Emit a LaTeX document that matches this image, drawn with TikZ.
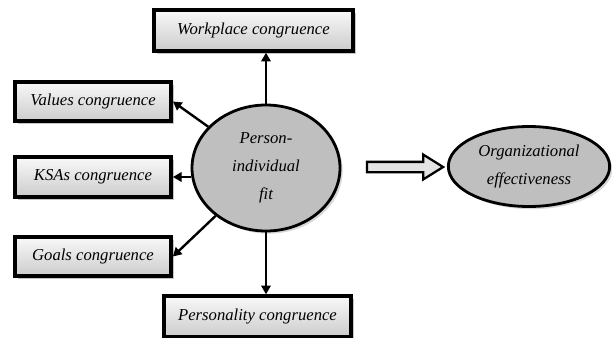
\documentclass[tikz,border=0pt]{standalone}
\usepackage{fontspec}
\setmainfont{Liberation Serif}
\newfontfamily\fitfont{Liberation Serif}
\usetikzlibrary{arrows.meta,shapes.geometric,shapes.arrows,shadows}
\tikzset{
	fitbox/.style={draw=black, line width=2.8pt, top color=gray!5, bottom color=gray!40,
		drop shadow={shadow xshift=2.2pt, shadow yshift=-2.2pt, fill=black!45},
		inner sep=0pt, minimum height=29.5pt, text=black,
		font=\fitfont\fontsize{12.5}{15}\selectfont\itshape},
	fitoval/.style={ellipse, draw=black, line width=2.1pt, fill=gray!50,
		drop shadow={shadow xshift=2pt, shadow yshift=-2pt, fill=black!30},
		inner sep=0pt, align=center, text=black,
		font=\fitfont\fontsize{12.5}{21}\selectfont\itshape},
	fitarrow/.style={line width=1.8pt, -{Triangle[length=6.5pt,width=7pt]}},
	blockarrow/.style={single arrow, draw=black, line width=1.7pt, fill=gray!22,
		inner sep=3pt, single arrow head extend=5.5pt, single arrow tip angle=64,
		minimum height=57pt}
}

\begin{document}
\begin{tikzpicture}[x=0.75pt, y=-0.75pt]
			%%%%% START %%%%%
			\useasboundingbox (0, 0) rectangle (612, 337);
			
			\node[fitoval, minimum width=111pt, minimum height=94.5pt] (fit) at (266, 168) {Person-\\individual\\fit};
			\node[fitoval, minimum width=121pt, minimum height=60pt] (org) at (529, 166.5) {Organizational\\effectiveness};
			
			\node[fitbox, minimum width=149.5pt, minimum height=30.5pt] (work) at (253.5, 30.5) {Workplace congruence};
			\node[fitbox, minimum width=117pt] (val) at (93, 101.5) {Values congruence};
			\node[fitbox, minimum width=117pt] (ksa) at (93, 177) {KSAs congruence};
			\node[fitbox, minimum width=117pt] (goal) at (93, 256.5) {Goals congruence};
			\node[fitbox, minimum width=140.5pt, minimum height=30.5pt] (pers) at (257.5, 316.5) {Personality congruence};
			
			\draw[fitarrow] (fit.north) -- (fit.north |- work.south);
			\draw[fitarrow] (fit) -- (val.east);
			\draw[fitarrow] (fit.west |- ksa.east) -- (ksa.east);
			\draw[fitarrow] (fit) -- (goal.east);
			\draw[fitarrow] (fit.south) -- (fit.south |- pers.north);
			
			\node[blockarrow] (link) at (401, 167) {};
			%%%%% END %%%%%
\end{tikzpicture}
\end{document}
